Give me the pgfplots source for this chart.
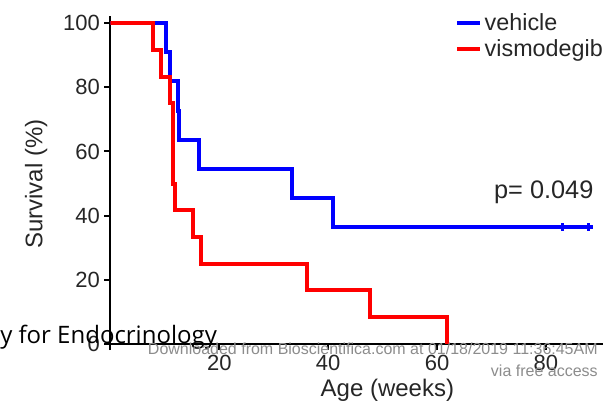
\documentclass[border=0pt]{standalone}
\usepackage{fontspec}
\setmainfont{Liberation Sans}
\newfontfamily\socfont{Open Sans}
\usepackage{pgfplots}
\pgfplotsset{compat=1.18}
\definecolor{kmblue}{HTML}{0000FF}
\definecolor{kmred}{HTML}{FF0000}
\definecolor{wmgray}{HTML}{8C8C8C}

\begin{document}
\begin{tikzpicture}
\begin{axis}[
  at={(0,0)}, anchor=south west,
  scale only axis, width=369.4pt, height=246pt,
  xmin=0, xmax=90.5, ymin=0, ymax=102.2,
  axis lines=left,
  axis line style={line width=1.5pt, -},
  xtick={0,20,40,60,80}, xticklabels={,20,40,60,80},
  ytick={0,20,40,60,80,100},
  tick align=outside, major tick length=4.5pt,
  tick style={black, line width=1.5pt},
  tick label style={font=\fontsize{16.5}{19}\selectfont, text=black!85},
  /pgf/number format/assume math mode=true,
  xlabel={Age (weeks)}, ylabel={Survival (\%)},
  label style={font=\fontsize{18}{20}\selectfont, text=black!85},
  xlabel style={xshift=23pt},
  ylabel style={xshift=-3pt, yshift=5pt},
  legend style={at={(rel axis cs:1,1)}, anchor=north east, draw=none, fill=none,
    font=\fontsize{17.5}{20}\selectfont, text=black!85, inner sep=0pt,
    row sep=1pt, xshift=2pt, yshift=4pt},
  legend cell align=left,
]
\addplot[kmblue, line width=3pt, const plot] coordinates {
  (0,100) (10.2,90.9) (10.9,81.8) (12.4,72.7) (12.6,63.6) (16.3,54.5)
  (33.4,45.5) (40.9,36.4) (88.7,36.4)
};
\addplot[kmred, line width=3pt, const plot] coordinates {
  (0,100) (7.8,91.7) (9.3,83.3) (11.0,75) (11.5,50) (11.9,41.7)
  (15.2,33.3) (16.6,25) (36.1,16.7) (47.7,8.3) (61.8,0)
};
\addplot[kmblue, only marks, mark=|, mark size=3pt, line width=2pt, forget plot]
  coordinates {(83.0,36.4) (87.8,36.4)};
\legend{vehicle, vismodegib}
\node[anchor=base east, font=\fontsize{19}{22}\selectfont, text=black!85]
  at (axis cs:89.6,45.2) {p= 0.049};
\end{axis}
% watermark of the source page
\node[anchor=base west, inner sep=0pt, font=\socfont\fontsize{18}{21}\selectfont]
  at (-82.875pt,0.75pt) {y for Endocrinology};
\node[anchor=base east, inner sep=0pt, text=wmgray, font=\fontsize{12}{14}\selectfont]
  at (365.6pt,-7.5pt) {Downloaded from Bioscientifica.com at 01/18/2019 11:36:45AM};
\node[anchor=base east, inner sep=0pt, text=wmgray, font=\fontsize{12}{14}\selectfont]
  at (365.6pt,-24pt) {via free access};
\pgfresetboundingbox
\path[use as bounding box] (-82.875pt,-42.75pt) rectangle (374.625pt,258pt);
\end{tikzpicture}
\end{document}
